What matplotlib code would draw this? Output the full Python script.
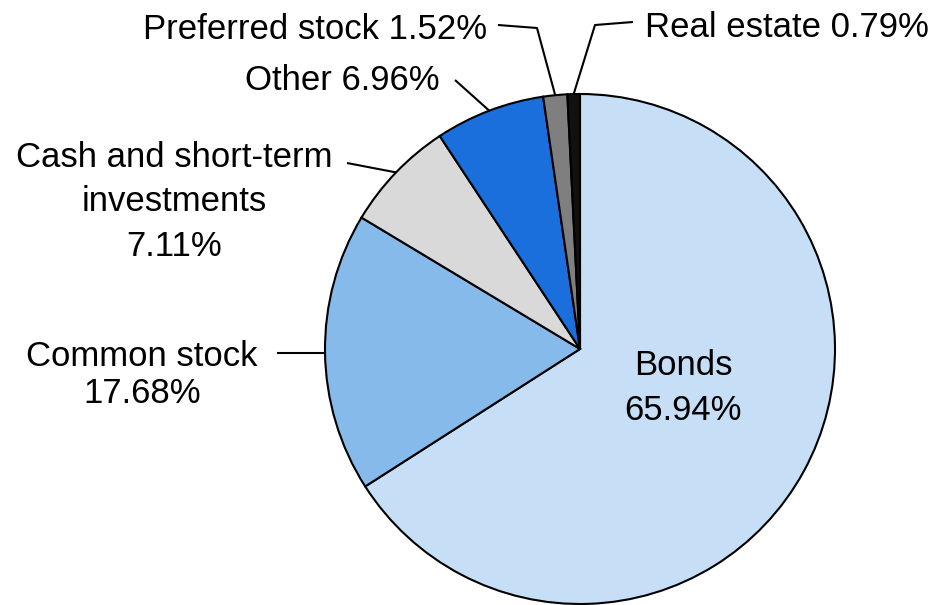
import numpy as np
import matplotlib.pyplot as plt

# Portfolio composition (percent), clockwise from 12 o'clock
categories = ["Bonds", "Common stock", "Cash and short-term investments",
              "Other", "Preferred stock", "Real estate"]
shares = [65.94, 17.68, 7.11, 6.96, 1.52, 0.79]
colors = ["#c6dff6", "#85baeb", "#d9d9d9", "#1b6fdc", "#7f7f7f", "#111111"]

plt.rcParams["font.family"] = ["Liberation Sans", "DejaVu Sans"]

W, H = 945, 605
fig = plt.figure(figsize=(W / 100, H / 100), dpi=100)
ax = fig.add_axes([0, 0, 1, 1])

cx, cy, r = 580, H - 349, 255
wedges, _ = ax.pie(shares, colors=colors, startangle=90, counterclock=False,
                   center=(cx, cy), radius=r, frame=True,
                   wedgeprops=dict(edgecolor="black", linewidth=1.5))
ax.set_xlim(0, W)
ax.set_ylim(0, H)
ax.set_aspect("equal")
ax.axis("off")

fs = 25


def edge_point(w, frac=0.5):
    a = np.deg2rad(w.theta1 + (w.theta2 - w.theta1) * frac)
    return cx + r * np.cos(a), cy + r * np.sin(a)


def leader(p0, pts):
    xs = [p0[0]] + [p[0] for p in pts]
    ys = [p0[1]] + [H - p[1] for p in pts]
    ax.plot(xs, ys, color="black", lw=1.5, solid_capstyle="butt")


def label(x, y, s, ha="center"):
    # y given in pixels from top
    ax.text(x, H - y, s, ha=ha, va="center_baseline", fontsize=fs)


# Bonds label inside
label(683, 362, "Bonds")
label(683, 407, "65.94%")

# Common stock
p = edge_point(wedges[1])
ax.plot([p[0], 278], [p[1], p[1]], color="black", lw=1.5)
label(142, H - p[1], "Common stock")
label(142, 390, "17.68%")

# Cash
leader(edge_point(wedges[2]), [(347, 163)])
label(174, 154, "Cash and short-term")
label(174, 198, "investments")
label(174, 243, "7.11%")

# Other
leader(edge_point(wedges[3]), [(455, 80)])
label(440, 77, "Other 6.96%", ha="right")

# Preferred stock
leader(edge_point(wedges[4]), [(537, 28), (498, 25)])
label(487, 26, "Preferred stock 1.52%", ha="right")

# Real estate
leader(edge_point(wedges[5]), [(595, 25), (633, 22)])
label(645, 24, "Real estate 0.79%", ha="left")

fig.savefig("out.png", dpi=100)
